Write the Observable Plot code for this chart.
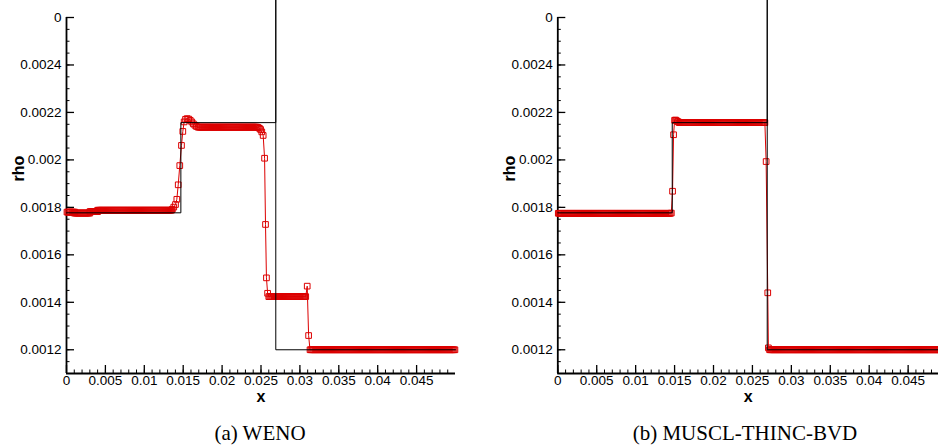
<!DOCTYPE html>
<html>
<head>
<meta charset="utf-8">
<script src="https://cdn.jsdelivr.net/npm/d3@7"></script>
<script src="https://cdn.jsdelivr.net/npm/@observablehq/plot@0.6"></script>
<style>
  body { margin: 0; background: #fff; }
  #row { display: flex; width: 938px; }
  .panel { position: relative; }
  .panel g[aria-label$="tick label"] text { font-size: 13.5px; }
  .cap {
    position: relative; height: 30px;
    font-family: "Liberation Serif", "Times New Roman", serif;
    font-size: 21px; color: #000;
  }
  .cap span { position: absolute; top: 3px; transform: translateX(-50%); white-space: nowrap; line-height: 30px; }
</style>
</head>
<body>
<div id="row"></div>
<script>
// Density profiles at the output time: exact solution and two schemes.

// Exact solution (piecewise constant, with the spike at the contact)
const exactX   = [0, 0.0147, 0.0147, 0.0269, 0.0269, 0.0269, 0.05];
const exactRho = [0.001777, 0.001777, 0.002157, 0.002157, 0.00268, 0.0012, 0.0012];

// Mesh spacing of the computed solutions (400 cells over [0, 0.05])
const meshDx = 0.000125;

// WENO: constant states [xStart, xEnd, rho] and the cells in between [x, rho]
const wenoStates = [
  [0.0000625, 0.001, 0.001780],
  [0.001, 0.003, 0.001776],
  [0.003, 0.004, 0.001782],
  [0.004, 0.0135, 0.001788],
  [0.0169, 0.0245, 0.002138],
  [0.0260, 0.0308, 0.001424],
  [0.0313, 0.0499, 0.001200]
];
const wenoCells = [
  [0.01360, 0.001792], [0.01379, 0.001801], [0.01401, 0.001812], [0.01418, 0.001834],
  [0.01436, 0.001895], [0.01456, 0.001976], [0.01478, 0.002061], [0.01495, 0.002120],
  [0.01512, 0.002160], [0.01530, 0.002171], [0.01550, 0.002174], [0.01570, 0.002172],
  [0.01590, 0.002167], [0.01610, 0.002160], [0.01630, 0.002152], [0.01650, 0.002146],
  [0.01670, 0.002141],
  [0.02465, 0.002136], [0.02480, 0.002133], [0.02495, 0.002128], [0.02510, 0.002118],
  [0.02528, 0.002103], [0.02546, 0.002007], [0.02558, 0.001728], [0.02570, 0.001503],
  [0.02585, 0.001438],
  [0.03094, 0.001468], [0.03112, 0.001260]
];

// MUSCL-THINC-BVD
const bvdStates = [
  [0.0000625, 0.0144, 0.001775],
  [0.0156, 0.0266, 0.002157],
  [0.0272, 0.0499, 0.001200]
];
const bvdCells = [
  [0.01458, 0.001776], [0.01474, 0.001868], [0.01487, 0.002106], [0.01500, 0.002167],
  [0.01512, 0.002168], [0.01525, 0.002165], [0.01537, 0.002162], [0.01550, 0.002160],
  [0.02676, 0.001993], [0.02697, 0.001440], [0.02705, 0.001208]
];

// Axis ticks and labels
const xTicks = [0, 0.005, 0.01, 0.015, 0.02, 0.025, 0.03, 0.035, 0.04, 0.045];
const xTickLabels = ["0", "0.005", "0.01", "0.015", "0.02", "0.025", "0.03", "0.035", "0.04", "0.045"];
const yTicks = [0.0012, 0.0014, 0.0016, 0.0018, 0.002, 0.0022, 0.0024, 0.0026];
const yTickLabels = ["0.0012", "0.0014", "0.0016", "0.0018", "0.002", "0.0022", "0.0024", "0"];
const xMinor = d3.range(0, 0.0495, 0.001);
const yMinor = d3.range(0.0011, 0.00261, 0.00005);

const RED = "#dc0000";
const FONT = "'Liberation Sans', Arial, sans-serif";

// Expand the constant states onto the mesh and merge with the listed cells
function profile(states, cells) {
  const pts = cells.map(([x, rho]) => ({x, rho}));
  for (const [x0, x1, rho] of states) {
    const n = Math.round((x1 - x0) / meshDx);
    for (let i = 0; i <= n; i++) pts.push({x: x0 + i * meshDx, rho});
  }
  return pts.sort((a, b) => a.x - b.x);
}

const exact = exactX.map((x, i) => ({x, rho: exactRho[i]}));

function panel(data, {width, marginLeft, marginRight, xDomain}) {
  return Plot.plot({
    width, height: 415,
    marginTop: 17, marginBottom: 42, marginLeft, marginRight,
    x: {domain: xDomain},
    y: {domain: [0.0011, 0.0026]},
    style: {fontFamily: FONT, fontSize: "13.5px", color: "#000", background: "#fff"},
    marks: [
      Plot.axisX(xMinor, {tickSize: -3.5, fill: "none", label: null}),
      Plot.axisX(xTicks, {tickSize: -8, fill: "none", label: null, strokeWidth: 1.3}),
      Plot.axisX(xTicks, {tickSize: 0, tickPadding: 2, label: null, fill: "#000",
        tickFormat: d => xTickLabels[xTicks.indexOf(d)]}),
      Plot.axisY(yMinor, {tickSize: -3.5, fill: "none", label: null}),
      Plot.axisY(yTicks, {tickSize: -8, fill: "none", label: null, strokeWidth: 1.3}),
      Plot.axisY(yTicks, {tickSize: 0, tickPadding: 5, label: null, fill: "#000",
        tickFormat: d => yTickLabels[yTicks.indexOf(d)]}),
      Plot.ruleX([0], {strokeWidth: 1.8}),
      Plot.ruleY([0.0011], {strokeWidth: 1.8}),
      Plot.line(data, {x: "x", y: "rho", stroke: RED, strokeWidth: 1}),
      Plot.dot(data, {x: "x", y: "rho", symbol: "square", r: 3.2, stroke: RED, fill: "none", strokeWidth: 1}),
      Plot.line(exact, {x: "x", y: "rho", stroke: "#000", strokeWidth: 1}),
      Plot.text(["rho"], {frameAnchor: "left", dx: -48, dy: -14, rotate: -90, fontWeight: "bold", fontSize: 16, fill: "#000"}),
      Plot.text(["x"], {frameAnchor: "bottom", dy: 28, fontWeight: "bold", fontSize: 16, fill: "#000"})
    ]
  });
}

function addPanel(chart, width, caption, captionX) {
  const div = document.createElement("div");
  div.className = "panel";
  div.style.width = width + "px";
  div.appendChild(chart);
  const cap = document.createElement("div");
  cap.className = "cap";
  const span = document.createElement("span");
  span.textContent = caption;
  span.style.left = captionX + "px";
  cap.appendChild(span);
  div.appendChild(cap);
  document.getElementById("row").appendChild(div);
}

addPanel(panel(profile(wenoStates, wenoCells),
  {width: 470, marginLeft: 66, marginRight: 15, xDomain: [0, 0.05]}),
  470, "(a) WENO", 260);
addPanel(panel(profile(bvdStates, bvdCells),
  {width: 468, marginLeft: 87.3, marginRight: 0, xDomain: [0, 0.0489]}),
  468, "(b) MUSCL-THINC-BVD", 275);
</script>
</body>
</html>
